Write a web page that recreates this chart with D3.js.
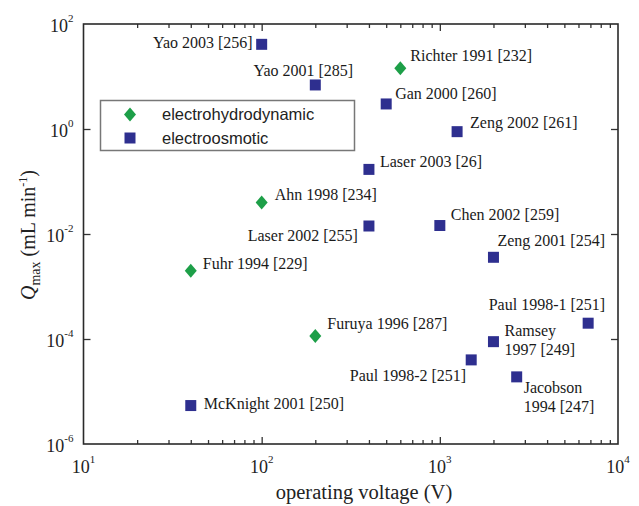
<!DOCTYPE html>
<html>
<head>
<meta charset="utf-8">
<script src="https://cdn.jsdelivr.net/npm/d3@7"></script>
<style>
  body { margin: 0; background: #fff; }
  svg { display: block; }
</style>
</head>
<body>
<div id="container"></div>
<script>
/* DATA */
const studies = [
  'Yao 2003 [256]', 'Yao 2001 [285]', 'Richter 1991 [232]', 'Gan 2000 [260]',
  'Zeng 2002 [261]', 'Laser 2003 [26]', 'Ahn 1998 [234]', 'Laser 2002 [255]',
  'Chen 2002 [259]', 'Zeng 2001 [254]', 'Fuhr 1994 [229]', 'Furuya 1996 [287]',
  'Paul 1998-1 [251]', 'Ramsey 1997 [249]', 'Paul 1998-2 [251]', 'Jacobson 1994 [247]',
  'McKnight 2001 [250]'
]
const voltage = [100, 200, 600, 500, 1250, 400, 100, 400, 1000, 2000, 40, 200, 6800, 2000, 1500, 2700, 40]
const qmax = [41, 6.9, 14.3, 3.0, 0.89, 0.17, 0.04, 0.0142, 0.0145, 0.0036, 0.002, 0.000114, 0.0002, 0.000089, 0.00004, 0.000019, 0.0000054]
const pumpType = ['eo', 'eo', 'ehd', 'eo', 'eo', 'eo', 'ehd', 'eo', 'eo', 'eo', 'ehd', 'ehd', 'eo', 'eo', 'eo', 'eo', 'eo']

const xMajor = [10, 100, 1000, 10000]
const xExponents = ['1', '2', '3', '4']
const yMajor = [1e2, 1, 1e-2, 1e-4, 1e-6]
const yExponents = ['2', '0', '-2', '-4', '-6']

const legendItems = [
  { type: 'ehd', text: 'electrohydrodynamic' },
  { type: 'eo', text: 'electroosmotic' }
]

/* LABEL PLACEMENT (offset from the marker, anchor, extra line) */
const labelPlace = {
  'Yao 2003 [256]': { dx: -9, dy: 4, anchor: 'end' },
  'Yao 2001 [285]': { dx: -12, dy: -9, anchor: 'middle' },
  'Richter 1991 [232]': { dx: 10, dy: -7, anchor: 'start' },
  'Gan 2000 [260]': { dx: 9, dy: -5, anchor: 'start' },
  'Zeng 2002 [261]': { dx: 13, dy: -4, anchor: 'start' },
  'Laser 2003 [26]': { dx: 11, dy: -2, anchor: 'start' },
  'Ahn 1998 [234]': { dx: 13, dy: -2, anchor: 'start' },
  'Laser 2002 [255]': { dx: -11, dy: 15, anchor: 'end' },
  'Chen 2002 [259]': { dx: 11, dy: -6, anchor: 'start' },
  'Zeng 2001 [254]': { dx: 4, dy: -11, anchor: 'start' },
  'Fuhr 1994 [229]': { dx: 12, dy: -2, anchor: 'start' },
  'Furuya 1996 [287]': { dx: 12, dy: -7, anchor: 'start' },
  'Paul 1998-1 [251]': { dx: 17, dy: -13, anchor: 'end' },
  'Ramsey 1997 [249]': { dx: 11, dy: -6, anchor: 'start', lines: ['Ramsey', '1997 [249]'] },
  'Paul 1998-2 [251]': { dx: -5, dy: 21, anchor: 'end' },
  'Jacobson 1994 [247]': { dx: 7, dy: 16, anchor: 'start', lines: ['Jacobson', '1994 [247]'] },
  'McKnight 2001 [250]': { dx: 13, dy: 3, anchor: 'start' }
}

/* CONSTANTS */
const width = 639,
  height = 506,
  margin = { top: 24, right: 21, bottom: 62, left: 83.5 }

const colors = { ehd: '#1d9f48', eo: '#2e2f8f' }
const serif = '"Liberation Serif", "Times New Roman", serif'
const sans = '"Liberation Sans", Arial, sans-serif'

const data = studies.map((name, i) => ({ name, v: voltage[i], q: qmax[i], type: pumpType[i] }))

const svg = d3.select('#container')
  .append('svg')
  .attr('width', width)
  .attr('height', height)

const xScale = d3.scaleLog()
  .domain([10, 10000])
  .range([margin.left, width - margin.right])

const yScale = d3.scaleLog()
  .domain([1e-6, 1e2])
  .range([height - margin.bottom, margin.top])

const innerW = width - margin.right - margin.left
const innerH = height - margin.bottom - margin.top

// minor ticks 2..9 in every decade
const xMinor = []
for (let d = 10; d < 10000; d *= 10) {
  for (let k = 2; k <= 9; k++) xMinor.push(k * d)
}

const tickColor = '#333'

function styleAxis(g) {
  g.select('.domain').remove()
  g.selectAll('.tick line').attr('stroke', tickColor).attr('stroke-width', 1.3)
}

// bottom + top ticks (inside)
svg.append('g')
  .attr('transform', `translate(0, ${height - margin.bottom})`)
  .call(d3.axisBottom(xScale).tickValues(xMinor).tickSize(-4).tickFormat(''))
  .call(styleAxis)
svg.append('g')
  .attr('transform', `translate(0, ${height - margin.bottom})`)
  .call(d3.axisBottom(xScale).tickValues(xMajor.slice(1, 3)).tickSize(-7).tickFormat(''))
  .call(styleAxis)
svg.append('g')
  .attr('transform', `translate(0, ${margin.top})`)
  .call(d3.axisTop(xScale).tickValues(xMinor).tickSize(-4).tickFormat(''))
  .call(styleAxis)
svg.append('g')
  .attr('transform', `translate(0, ${margin.top})`)
  .call(d3.axisTop(xScale).tickValues(xMajor.slice(1, 3)).tickSize(-7).tickFormat(''))
  .call(styleAxis)

// left + right ticks (inside)
svg.append('g')
  .attr('transform', `translate(${margin.left}, 0)`)
  .call(d3.axisLeft(yScale).tickValues(yMajor.slice(1, 4)).tickSize(-7).tickFormat(''))
  .call(styleAxis)
svg.append('g')
  .attr('transform', `translate(${width - margin.right}, 0)`)
  .call(d3.axisRight(yScale).tickValues(yMajor.slice(1, 4)).tickSize(-7).tickFormat(''))
  .call(styleAxis)

// frame
svg.append('rect')
  .attr('x', margin.left)
  .attr('y', margin.top)
  .attr('width', innerW)
  .attr('height', innerH)
  .attr('fill', 'none')
  .attr('stroke', '#2a2a2a')
  .attr('stroke-width', 1.6)

// x tick labels
const xLab = svg.append('g')
  .selectAll('text')
  .data(xMajor)
  .join('text')
  .attr('x', d => xScale(d))
  .attr('y', height - margin.bottom + 29)
  .attr('text-anchor', 'middle')
  .style('font-family', serif)
  .style('font-size', '18px')
  .attr('fill', '#222')
xLab.append('tspan').text('10')
xLab.append('tspan')
  .attr('dy', -10)
  .style('font-size', '11px')
  .text((d, i) => xExponents[i])

// y tick labels
const yLab = svg.append('g')
  .selectAll('text')
  .data(yMajor)
  .join('text')
  .attr('x', margin.left - 10)
  .attr('y', d => yScale(d) + 8)
  .attr('text-anchor', 'end')
  .style('font-family', serif)
  .style('font-size', '18px')
  .attr('fill', '#222')
yLab.append('tspan').text('10')
yLab.append('tspan')
  .attr('dy', -10)
  .style('font-size', '11px')
  .text((d, i) => yExponents[i])

// axis titles
svg.append('text')
  .attr('x', 364)
  .attr('y', height - 7)
  .attr('text-anchor', 'middle')
  .style('font-family', serif)
  .style('font-size', '20.5px')
  .attr('fill', '#222')
  .text('operating voltage (V)')

const yTitle = svg.append('text')
  .attr('transform', `translate(35, ${margin.top + innerH / 2 + 1}) rotate(-90)`)
  .attr('text-anchor', 'middle')
  .style('font-family', serif)
  .style('font-size', '20px')
  .attr('fill', '#222')
yTitle.append('tspan').style('font-style', 'italic').text('Q')
yTitle.append('tspan').attr('dy', 5).style('font-size', '14px').text('max')
yTitle.append('tspan').attr('dy', -5).text(' (mL min')
yTitle.append('tspan').attr('dy', -8).style('font-size', '12px').text('-1')
yTitle.append('tspan').attr('dy', 8).text(')')

/* MARKERS */
const diamond = 'M0,-7L6,0L0,7L-6,0Z'
const square = 'M-5.5,-5.5H5.5V5.5H-5.5Z'

function marker(sel) {
  sel.append('path')
    .attr('d', d => d.type === 'ehd' ? diamond : square)
    .attr('fill', d => colors[d.type])
}

svg.append('g')
  .selectAll('g')
  .data(data)
  .join('g')
  .attr('transform', d => `translate(${xScale(d.v)}, ${yScale(d.q)})`)
  .call(marker)

// point labels
const labels = svg.append('g')
  .selectAll('text')
  .data(data)
  .join('text')
  .attr('x', d => xScale(d.v) + labelPlace[d.name].dx)
  .attr('y', d => yScale(d.q) + labelPlace[d.name].dy)
  .attr('text-anchor', d => labelPlace[d.name].anchor)
  .style('font-family', serif)
  .style('font-size', '16px')
  .attr('fill', '#1a1a1a')

labels.each(function (d) {
  const p = labelPlace[d.name]
  const t = d3.select(this)
  if (p.lines) {
    p.lines.forEach((line, i) => {
      t.append('tspan')
        .attr('x', xScale(d.v) + p.dx)
        .attr('dy', i === 0 ? 0 : 19.5)
        .text(line)
    })
  } else {
    t.text(d.name)
  }
})

/* LEGEND */
const legend = svg.append('g')

legend.append('rect')
  .attr('x', 100.5)
  .attr('y', 100.5)
  .attr('width', 254)
  .attr('height', 50)
  .attr('fill', '#fff')
  .attr('stroke', '#777')
  .attr('stroke-width', 1.5)

const legendRow = legend.selectAll('g')
  .data(legendItems)
  .join('g')
  .attr('transform', (d, i) => `translate(130, ${114.5 + i * 23.5})`)

legendRow.append('path')
  .attr('d', d => d.type === 'ehd' ? diamond : square)
  .attr('fill', d => colors[d.type])

legendRow.append('text')
  .attr('x', 32)
  .attr('y', 0)
  .attr('dy', '0.35em')
  .style('font-family', sans)
  .style('font-size', '16.5px')
  .attr('fill', '#222')
  .text(d => d.text)
</script>
</body>
</html>
